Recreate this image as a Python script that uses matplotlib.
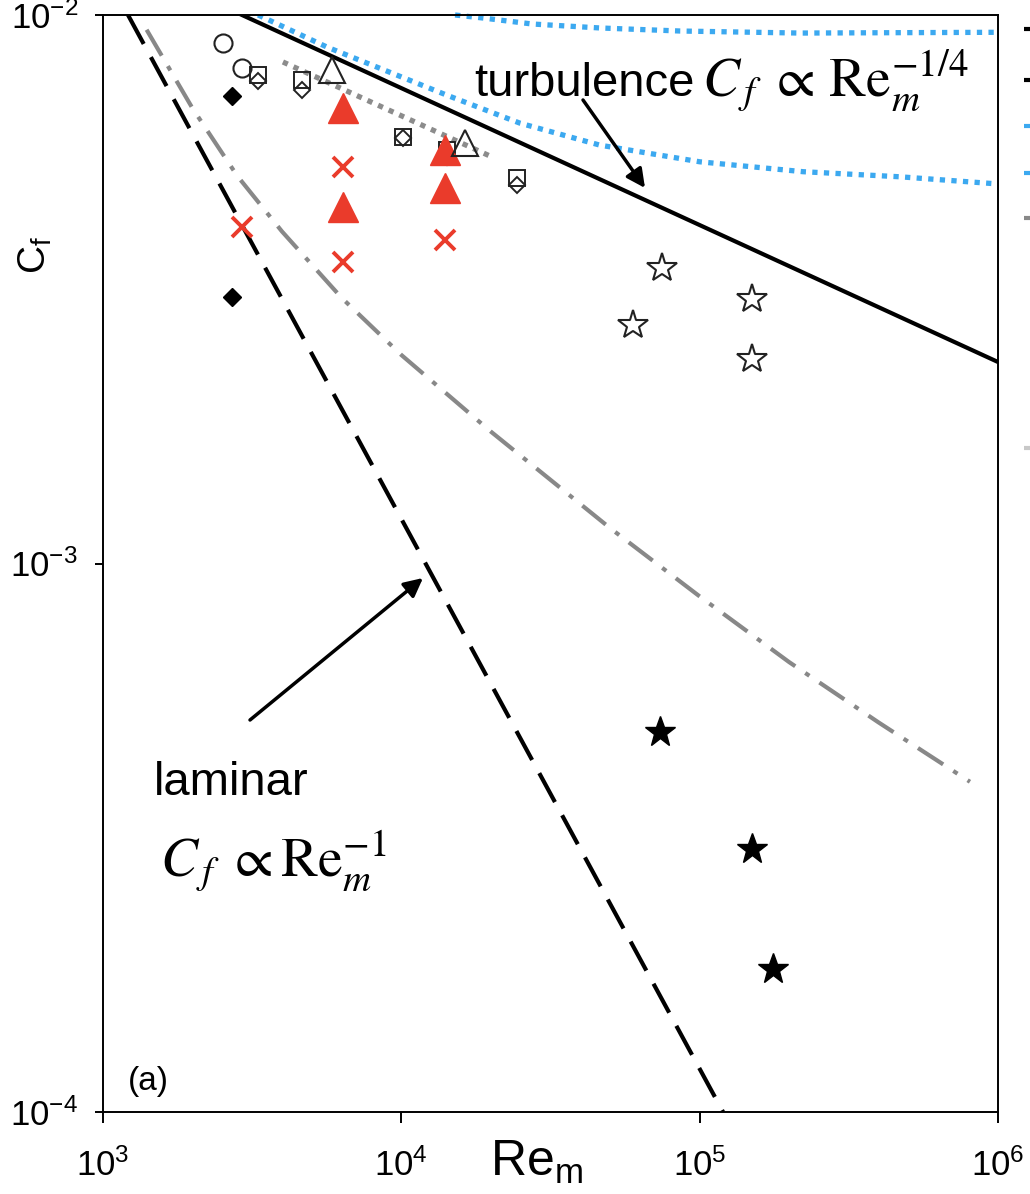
import numpy as np
import matplotlib.pyplot as plt
from matplotlib.lines import Line2D
from matplotlib.ticker import NullLocator

plt.rcParams['font.family'] = ['Liberation Sans', 'DejaVu Sans']
plt.rcParams['mathtext.fontset'] = 'stix'

# ---- data ----
# scaling laws
lam_re = [1213, 119800]
lam_cf = [1.0e-2, 1.0e-4]
turb_re = [2924, 1.0e6]
turb_cf = [1.0e-2, 2.33e-3]
grey_dot_re = [4010, 20140]
grey_dot_cf = [8.21e-3, 5.51e-3]

# curves
dashdot_re = [1400, 1995, 2818, 3981, 6310, 10000, 19950, 50120, 100000, 199500, 398100, 805400]
dashdot_cf = [9.40e-3, 6.76e-3, 5.09e-3, 4.03e-3, 3.05e-3, 2.40e-3, 1.74e-3, 1.16e-3,
              8.71e-4, 6.61e-4, 5.13e-4, 4.0e-4]
blue_hi_re = [15140, 18920, 27400, 46350, 85900, 217000, 1.0e6]
blue_hi_cf = [1.0e-2, 9.87e-3, 9.63e-3, 9.47e-3, 9.35e-3, 9.27e-3, 9.30e-3]
blue_lo_re = [3311, 5636, 8955, 14230, 24990, 46350, 100000, 222000, 470000, 1.0e6]
blue_lo_cf = [1.0e-2, 8.74e-3, 7.90e-3, 7.14e-3, 6.35e-3, 5.79e-3, 5.40e-3, 5.18e-3,
              5.07e-3, 4.92e-3]

# measurements
circ_re = [2526, 2924]
circ_cf = [8.89e-3, 8.01e-3]
fdiam_re = [2707, 2707]
fdiam_cf = [7.12e-3, 3.06e-3]
sq_re = [3308, 4645, 10130, 14230, 24430]
sq_cf = [7.77e-3, 7.61e-3, 5.99e-3, 5.67e-3, 5.04e-3]
diam_re = [3308, 4645, 10130, 14230, 24430]
diam_cf = [7.58e-3, 7.30e-3, 5.97e-3, 5.51e-3, 4.90e-3]
otri_re = [5862, 16350]
otri_cf = [7.94e-3, 5.84e-3]
rtri_re = [6377, 6377, 14010, 14010]
rtri_cf = [6.77e-3, 4.47e-3, 5.67e-3, 4.84e-3]
rx_re = [2924, 6377, 6377, 14010]
rx_cf = [4.11e-3, 5.28e-3, 3.54e-3, 3.89e-3]
ostar_re = [59850, 74830, 149900, 149900]
ostar_cf = [2.72e-3, 3.46e-3, 3.04e-3, 2.36e-3]
fstar_re = [73650, 149900, 176200]
fstar_cf = [4.93e-4, 3.02e-4, 1.82e-4]

xticks = [1e3, 1e4, 1e5, 1e6]
xlabels = [r'$\mathregular{10^{3}}$', r'$\mathregular{10^{4}}$',
           r'$\mathregular{10^{5}}$', r'$\mathregular{10^{6}}$']
yticks = [1e-4, 1e-3, 1e-2]
ylabels = [r'$\mathregular{10^{-4}}$', r'$\mathregular{10^{-3}}$', r'$\mathregular{10^{-2}}$']

# cut-off legend handles on the right edge
leg_y = [29, 80, 126, 173, 218, 448]
leg_col = ['black', 'black', '#3ca9f0', '#3ca9f0', '#888888', '#c8c8c8']

W, H = 1030, 1194
red = '#ea3b2b'
blue = '#3ca9f0'


def fp(x, y):
    return (x / W, 1 - y / H)


fig = plt.figure(figsize=(W / 100, H / 100), dpi=100)
ax = fig.add_axes([103 / W, 1 - 1112 / H, (998 - 103) / W, (1112 - 15) / H])
ax.set_xscale('log')
ax.set_yscale('log')

dots = (1.0, 1.2)
ax.plot(lam_re, lam_cf, color='black', lw=3, dashes=(7.9, 3.6))
ax.plot(turb_re, turb_cf, color='black', lw=3)
ax.plot(dashdot_re, dashdot_cf, color='#888888', lw=3, dashes=(7.2, 2.9, 1.2, 2.9))
ax.plot(grey_dot_re, grey_dot_cf, color='#8c8c8c', lw=3.8, dashes=dots)
ax.plot(blue_lo_re, blue_lo_cf, color=blue, lw=3.8, dashes=dots)
ax.plot(blue_hi_re, blue_hi_cf, color=blue, lw=3.8, dashes=dots, clip_on=False)

ax.plot(circ_re, circ_cf, 'o', ms=13, mfc='white', mec='#222222', mew=1.5, ls='none')
ax.plot(fdiam_re, fdiam_cf, 'D', ms=9, mfc='black', mec='black', ls='none')
ax.plot(diam_re, diam_cf, 'D', ms=8, mfc='white', mec='#222222', mew=1.4, ls='none')
ax.plot(sq_re, sq_cf, 's', ms=12, mfc='none', mec='#222222', mew=1.4, ls='none')
ax.plot(otri_re, otri_cf, '^', ms=19, mfc='none', mec='#222222', mew=1.5, ls='none', zorder=4)
ax.plot(rtri_re, rtri_cf, '^', ms=21, mfc=red, mec=red, ls='none', zorder=2)
ax.plot(rx_re, rx_cf, 'x', ms=15, mec=red, mew=2.8, ls='none')
ax.plot(ostar_re, ostar_cf, '*', ms=22, mfc='white', mec='#222222', mew=1.5, ls='none')
ax.plot(fstar_re, fstar_cf, '*', ms=23, mfc='black', mec='black', ls='none')

ax.set_xlim(1e3, 1e6)
ax.set_ylim(1e-4, 1e-2)
ax.set_xticks(xticks)
ax.set_xticklabels(xlabels)
ax.set_yticks(yticks)
ax.set_yticklabels(ylabels)
ax.xaxis.set_minor_locator(NullLocator())
ax.yaxis.set_minor_locator(NullLocator())
ax.tick_params(axis='x', direction='out', length=8, width=1.4, pad=18, labelsize=25)
ax.tick_params(axis='y', direction='out', length=6, width=1.4, pad=12, labelsize=25)
for s in ax.spines.values():
    s.set_linewidth(1.4)

fig.text(*fp(537, 1162), r'$\mathregular{Re_m}$', fontsize=36, ha='center', va='center')
fig.text(*fp(35, 255), r'$\mathregular{C_f}$', fontsize=28, rotation=90, ha='center', va='center')

fig.text(*fp(474, 96), 'turbulence', fontsize=34, va='baseline')
fig.text(*fp(702, 96), r'$C_{\,f}\;\propto\,\mathrm{Re}_m^{-1/4}$', fontsize=40, va='baseline')
fig.text(*fp(154, 795), 'laminar', fontsize=34, va='baseline')
fig.text(*fp(160, 877), r'$C_{\,f}\;\propto\mathrm{Re}_m^{-1}$', fontsize=40, va='baseline')
fig.text(*fp(128, 1090), '(a)', fontsize=24, va='baseline')

arrow = dict(arrowstyle='-|>', color='black', lw=2.5, mutation_scale=28, shrinkA=0, shrinkB=0)
ax.annotate('', xy=fp(645, 188), xycoords='figure fraction',
            xytext=fp(583, 100), textcoords='figure fraction', arrowprops=arrow)
ax.annotate('', xy=fp(423, 578), xycoords='figure fraction',
            xytext=fp(250, 720), textcoords='figure fraction', arrowprops=arrow)

for y, c in zip(leg_y, leg_col):
    fig.add_artist(Line2D([1024 / W, 1040 / W], [1 - y / H] * 2, transform=fig.transFigure,
                          color=c, lw=3, solid_capstyle='butt'))

fig.savefig('out.png', dpi=100)
